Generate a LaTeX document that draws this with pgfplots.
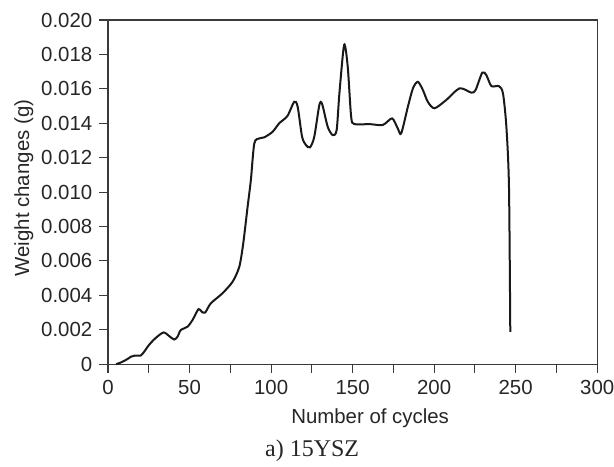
\documentclass[border=0pt]{standalone}
\usepackage{fontspec}
\setmainfont{Liberation Sans}
\newfontfamily\capfont{Liberation Serif}
\usepackage{pgfplots}
\pgfplotsset{compat=1.18}
\definecolor{axgray}{HTML}{3A3A3A}
\begin{document}
\fontsize{10.2}{12}\selectfont
\begin{tikzpicture}
\useasboundingbox (-54pt,-51pt) rectangle (252.9pt,182pt);
\begin{axis}[
  at={(0,0)}, anchor=south west,
  scale only axis, width=244.5pt, height=172pt,
  xmin=0, xmax=300, ymin=0, ymax=0.020,
  xtick={0,50,100,150,200,250,300},
  minor xtick={25,75,125,175,225,275},
  ytick={0,0.002,0.004,0.006,0.008,0.010,0.012,0.014,0.016,0.018,0.020},
  yticklabels={0,0.002,0.004,0.006,0.008,0.010,0.012,0.014,0.016,0.018,0.020},
  scaled y ticks=false,
  tick align=outside, tick pos=left,
  major tick length=4.3pt, minor tick length=4.3pt,
  axis line style={axgray, line width=0.55pt},
  every tick/.style={axgray, line width=0.55pt},
  tick label style={font=\fontsize{10.2}{12}\selectfont, text=black!85},
  /pgf/number format/assume math mode=true,
  clip=false,
]
\addplot[black!90, line width=1pt, smooth, tension=0.45] coordinates {
(5,0) (8,0.0001) (12,0.0003) (14,0.00043) (17,0.0005) (20,0.0005)
(22,0.0007) (25,0.0011) (29,0.0015) (34,0.00184) (37.5,0.00163)
(40.5,0.00143) (42.6,0.00159) (44.6,0.00198) (48.7,0.00217)
(51.8,0.00256) (55.5,0.0032) (57.5,0.00304) (59.6,0.003) (63,0.00353)
(70,0.0041) (76.4,0.00479) (80.5,0.00566) (82.9,0.0070) (85.6,0.00915)
(87.6,0.0107) (89.7,0.01283) (92.8,0.01312) (95.8,0.01318)
(100.9,0.0135) (105,0.0140) (110,0.01442) (114.2,0.01525)
(116.3,0.01496) (119,0.01322) (121.4,0.01273) (123.9,0.0126)
(126.5,0.01322) (129.6,0.01506) (131.3,0.01512) (134.7,0.0138)
(137.8,0.01331) (140.2,0.0136) (141.9,0.01574) (144.8,0.01855)
(147,0.01729) (149.1,0.01438) (151.1,0.01395) (160.3,0.01395)
(168.5,0.0139) (174.2,0.01428) (177.7,0.0137) (179.8,0.01341)
(183.9,0.01496) (187,0.01603) (190,0.01641) (193.1,0.01593)
(196.1,0.01525) (200.2,0.01487) (207.4,0.01535) (215.6,0.01603)
(222.8,0.01578) (225.4,0.01593) (229.5,0.01694) (232,0.0168)
(235.1,0.01616) (239.7,0.01616) (242.2,0.01574) (244.3,0.0138)
(245.9,0.0103) (246.7,0.00188)
};
\end{axis}
\node[rotate=90, anchor=base, text=black!85] at (-39.5pt,88pt) {Weight changes (g)};
\node[anchor=base, text=black!85] at (131pt,-29.7pt) {Number of cycles};
\node[anchor=base, text=black!85] at (102pt,-46.3pt) {\capfont\fontsize{12}{14}\selectfont a) 15YSZ};
\end{tikzpicture}
\end{document}
